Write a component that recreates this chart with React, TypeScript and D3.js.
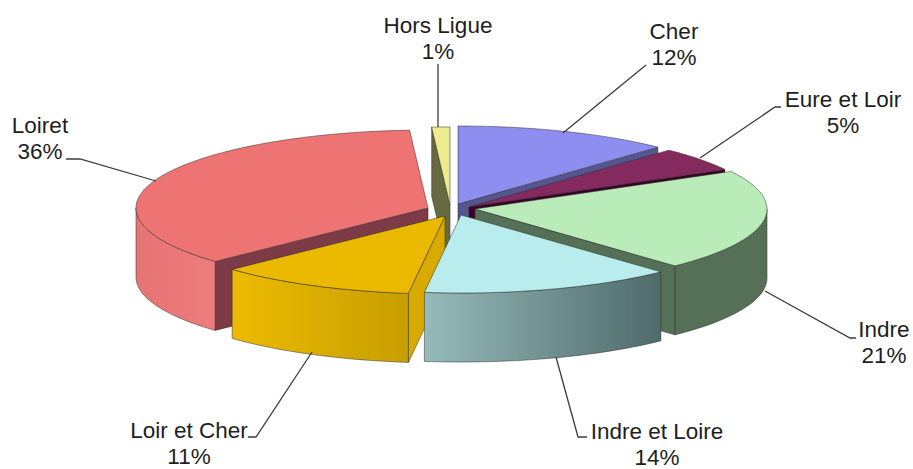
import React from "react";
import * as d3 from "d3";

const categories = ["Cher", "Eure et Loir", "Indre", "Indre et Loire", "Loir et Cher", "Loiret", "Hors Ligue"];
const shares = [12, 5, 21, 14, 11, 36, 1];

const W = 913, H = 469;
const RX = 292, RY = 78, DEPTH = 69;

// layout + style, by category name
const apex: Record<string, [number, number]> = {
  "Cher": [458, 204], "Eure et Loir": [469, 207], "Indre": [475, 209], "Indre et Loire": [461, 215],
  "Loir et Cher": [445, 216], "Loiret": [428, 208], "Hors Ligue": [450, 205],
};
const topColor: Record<string, string> = {
  "Cher": "#8e8ef0", "Eure et Loir": "#842b5e", "Indre": "#b9ecb9", "Indre et Loire": "#b9ecec",
  "Loir et Cher": "#ebb900", "Loiret": "#ee7373", "Hors Ligue": "#eeea8e",
};
const faceColor: Record<string, string> = {
  "Cher": "#55558f", "Eure et Loir": "#3a0526", "Indre": "#566f58", "Indre et Loire": "#4f6a6a",
  "Loir et Cher": "#d8aa00", "Loiret": "#7d3a46", "Hors Ligue": "#666a40",
};
const wallStops: Record<string, [string, string]> = {
  "Cher": ["#55558f", "#55558f"], "Eure et Loir": ["#3a0526", "#3a0526"], "Indre": ["#566f58", "#566f58"],
  "Indre et Loire": ["#4f6a6a", "#96baba"], "Loir et Cher": ["#c89e00", "#ecbb00"],
  "Loiret": ["#ee7c7c", "#e67474"], "Hors Ligue": ["#666a40", "#666a40"],
};
const labelAt: Record<string, { x: number; y: number }> = {
  "Hors Ligue": { x: 438, y: 33 }, "Cher": { x: 674, y: 39 }, "Eure et Loir": { x: 843, y: 107 },
  "Indre": { x: 884, y: 337 }, "Indre et Loire": { x: 657, y: 439 }, "Loir et Cher": { x: 189, y: 438 }, "Loiret": { x: 40, y: 133 },
};
const leaders: Record<string, [number, number][]> = {
  "Hors Ligue": [[438, 64], [438, 127]], "Cher": [[646, 65], [563, 133]], "Eure et Loir": [[781, 107], [775, 107], [700, 158]],
  "Indre": [[856, 338], [850, 338], [765, 291]], "Indre et Loire": [[587, 437], [578, 437], [556, 357]],
  "Loir et Cher": [[248, 437], [256, 437], [312, 352]], "Loiret": [[66, 159], [80, 159], [156, 181]],
};
const drawOrder = ["Hors Ligue", "Cher", "Eure et Loir", "Loiret", "Indre", "Loir et Cher", "Indre et Loire"];

const slices = d3.pie<number>().sort(null)(shares);
const lineGen = d3.line<[number, number]>();
const pt = (c: [number, number], a: number, dy = 0): [number, number] => [c[0] + RX * Math.sin(a), c[1] - RY * Math.cos(a) + dy];
const arcPts = (c: [number, number], a0: number, a1: number, dy = 0) => {
  const n = Math.max(2, Math.ceil(Math.abs(a1 - a0) / 0.02));
  return d3.range(n + 1).map((i) => pt(c, a0 + ((a1 - a0) * i) / n, dy));
};

export default function App() {
  const bySlice = new Map(categories.map((c, i) => [c, slices[i]]));
  return (
    <svg width={W} height={H} style={{ position: "absolute", left: 0, top: 0, background: "#fff" }}>
      <defs>
        <filter id="soft" x="-5%" y="-5%" width="110%" height="110%"><feGaussianBlur stdDeviation="0.7" /></filter>
        {categories.map((name, i) => {
          const c = apex[name];
          const s = bySlice.get(name)!;
          const a0 = Math.max(s.startAngle, Math.PI / 2), a1 = Math.min(s.endAngle, 1.5 * Math.PI);
          const xs = a1 > a0 ? [pt(c, a0)[0], pt(c, a1)[0]] : [0, 1];
          return (
            <linearGradient key={name} id={`wall${i}`} gradientUnits="userSpaceOnUse" x1={xs[0]} x2={xs[1]} y1={0} y2={0}>
              <stop offset="0" stopColor={wallStops[name][0]} />
              <stop offset="1" stopColor={wallStops[name][1]} />
            </linearGradient>
          );
        })}
      </defs>
      <g filter="url(#soft)">
        {drawOrder.map((name) => {
          const i = categories.indexOf(name);
          const s = bySlice.get(name)!;
          const c = apex[name];
          const cDown: [number, number] = [c[0], c[1] + DEPTH];
          const faces: number[] = [];
          if (Math.sin(s.startAngle) < -1e-6) faces.push(s.startAngle);
          if (Math.sin(s.endAngle) > 1e-6) faces.push(s.endAngle);
          const a0 = Math.max(s.startAngle, Math.PI / 2), a1 = Math.min(s.endAngle, 1.5 * Math.PI);
          const stroke = { stroke: "#2a2a2a", strokeOpacity: 0.55, strokeWidth: 0.9, strokeLinejoin: "round" as const };
          return (
            <g key={name}>
              {faces.map((a) => (
                <path key={a} fill={faceColor[name]} {...stroke}
                  d={lineGen([c, pt(c, a), pt(c, a, DEPTH), cDown])! + "Z"} />
              ))}
              {a1 > a0 && (
                <path fill={`url(#wall${i})`} {...stroke}
                  d={lineGen([...arcPts(c, a0, a1), ...arcPts(c, a1, a0, DEPTH)])! + "Z"} />
              )}
              <path fill={topColor[name]} {...stroke}
                d={lineGen([c, ...arcPts(c, s.startAngle, s.endAngle)])! + "Z"} />
            </g>
          );
        })}
      </g>
      <g fill="none" stroke="#3c3c3c" strokeWidth={1.3}>
        {categories.map((name) => <path key={name} d={lineGen(leaders[name])!} />)}
      </g>
      <g fontFamily="'Liberation Sans', Arial, sans-serif" fontSize={22.5} fill="#1e1e1e" textAnchor="middle">
        {categories.map((name, i) => (
          <text key={name} x={labelAt[name].x} y={labelAt[name].y}>
            <tspan x={labelAt[name].x}>{name}</tspan>
            <tspan x={labelAt[name].x} dy={25.5}>{shares[i]}%</tspan>
          </text>
        ))}
      </g>
    </svg>
  );
}
